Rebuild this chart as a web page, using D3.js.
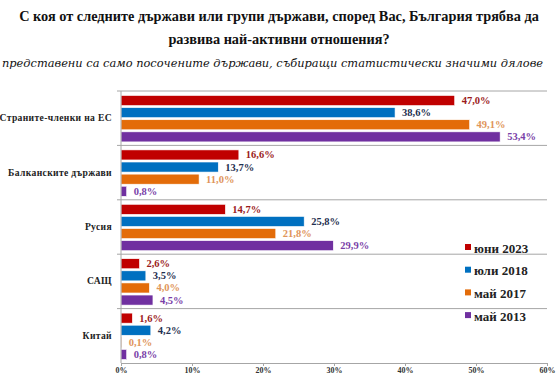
<!DOCTYPE html>
<html><head><meta charset="utf-8">
<script src="https://cdn.jsdelivr.net/npm/d3@7"></script>
<style>
body{margin:0;background:#fff;}
svg{display:block;}
</style></head>
<body>
<svg id="chart" width="559" height="381"></svg>
<script>
const categories = ["Страните-членки на ЕС","Балканските държави","Русия","САЩ","Китай"];
const seriesNames = ["юни 2023","юли 2018","май 2017","май 2013"];
const jun2023 = [47.0, 16.6, 14.7, 2.6, 1.6];
const jul2018 = [38.6, 13.7, 25.8, 3.5, 4.2];
const may2017 = [49.1, 11.0, 21.8, 4.0, 0.1];
const may2013 = [53.4, 0.8, 29.9, 4.5, 0.8];
const xTicks = [0,10,20,30,40,50,60];
const titleLines = ["С коя от следните държави или групи държави, според Вас, България трябва да","развива най-активни отношения?"];
const subtitle = "представени са само посочените държави, събиращи статистически значими дялове";

const barColors = ["#C00000","#0070C0","#E36C09","#7030A0"];
const labelColors = ["#9B1B1B","#1F3050","#E0955A","#7A3FA8"];
const seriesData = [jun2023, jul2018, may2017, may2013];

const svg = d3.select("#chart");
const serif = "'Liberation Serif','Times New Roman',serif";

svg.append("text").attr("x",279).attr("y",21).attr("text-anchor","middle")
  .attr("font-family",serif).attr("font-weight","bold").attr("font-size",14.3).attr("fill","#111")
  .text(titleLines[0]);
svg.append("text").attr("x",279).attr("y",44).attr("text-anchor","middle")
  .attr("font-family",serif).attr("font-weight","bold").attr("font-size",14.3).attr("fill","#111")
  .text(titleLines[1]);
svg.append("text").attr("x",2).attr("y",67)
  .attr("font-family","'DejaVu Serif',serif").attr("font-style","italic").attr("font-size",11.4).attr("fill","#111")
  .attr("textLength",541).attr("lengthAdjust","spacingAndGlyphs")
  .text(subtitle);

const pLeft = 121, pRight = 547, pTop = 91, pBottom = 363;
const x = d3.scaleLinear().domain([0,60]).range([pLeft,pRight]);
const y = d3.scaleBand().domain(categories).range([pTop,pBottom]);
const inner = d3.scaleBand().domain(d3.range(4)).range([4.5, y.bandwidth()-3.5]).paddingInner(0.17);

// separators
const bounds = d3.range(categories.length).map(i => pTop + i*y.bandwidth());
svg.append("g").selectAll("line").data(bounds).join("line")
  .attr("x1",pLeft-4).attr("x2",pRight).attr("y1",d=>d).attr("y2",d=>d)
  .attr("stroke","#a6a6a6").attr("stroke-width",1);

// bars
const g = svg.append("g");
categories.forEach((c,ci)=>{
  seriesData.forEach((s,si)=>{
    const v = s[ci];
    const by = y(c)+inner(si);
    g.append("rect").attr("x",x(0)).attr("y",by).attr("width",x(v)-x(0)).attr("height",inner.bandwidth())
      .attr("fill",barColors[si]).attr("stroke","#fff").attr("stroke-width",0.6);
    g.append("text").attr("x",x(v)+7).attr("y",by+inner.bandwidth()/2+3.5)
      .attr("font-family",serif).attr("font-weight","bold").attr("font-size",10.5)
      .attr("fill",labelColors[si]).text(v.toFixed(1).replace(".",",")+"%");
  });
});

// y axis line
svg.append("line").attr("x1",pLeft).attr("x2",pLeft).attr("y1",pTop).attr("y2",pBottom)
  .attr("stroke","#a6a6a6").attr("stroke-width",1);

// category labels
svg.append("g").selectAll("text").data(categories).join("text")
  .attr("x",112).attr("y",d=>y(d)+y.bandwidth()/2+3)
  .attr("text-anchor","end").attr("font-family",serif).attr("font-weight","bold")
  .attr("font-size",9.6).attr("letter-spacing",0.35).attr("fill","#222").text(d=>d);

// x axis
const xAxis = d3.axisBottom(x).tickValues(xTicks).tickFormat(d=>d+"%").tickSize(3).tickSizeOuter(0);
const ax = svg.append("g").attr("transform",`translate(0,${pBottom})`).call(xAxis);
ax.select(".domain").attr("stroke","#a6a6a6");
ax.selectAll(".tick line").attr("stroke","#a6a6a6");
ax.selectAll("text").attr("font-family",serif).attr("font-weight","bold").attr("font-size",8)
  .attr("fill","#333").attr("dy","0.55em");

// legend
const lg = svg.append("g");
seriesNames.forEach((n,i)=>{
  const ly = 248 + i*22.7;
  lg.append("rect").attr("x",465).attr("y",ly-4).attr("width",6).attr("height",6).attr("fill",barColors[i]);
  lg.append("text").attr("x",474).attr("y",ly+4.5).attr("font-family",serif).attr("font-weight","bold")
    .attr("font-size",13).attr("fill","#222").text(n);
});
</script>
</body></html>
